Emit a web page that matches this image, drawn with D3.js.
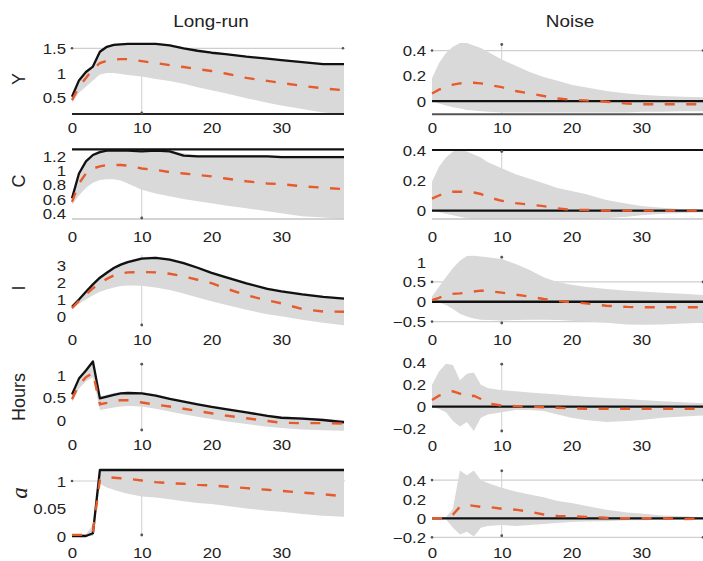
<!DOCTYPE html>
<html><head><meta charset="utf-8">
<script src="https://cdn.jsdelivr.net/npm/d3@7/dist/d3.min.js"></script>
<style>
html,body{margin:0;padding:0;background:#fff;}
svg{display:block;}
</style></head>
<body>
<svg id="chart" width="703" height="561"></svg>
<script>
// ---------------- DATA ----------------
const horizon = [0,1,2,3,4,5,6,7,8,10,12,14,16,18,20,22,25,28,30,33,36,39];
const colTitles = ["Long-run", "Noise"];
const rowLabels = ["Y", "C", "I", "Hours", "a"];
const xTicks = [0,10,20,30];

// Y
const yLrSolid = [0.52,0.85,1.02,1.13,1.43,1.53,1.57,1.58,1.59,1.59,1.59,1.56,1.50,1.45,1.41,1.38,1.33,1.29,1.26,1.22,1.18,1.18];
const yLrMean  = [0.45,0.72,0.90,1.08,1.20,1.25,1.27,1.28,1.28,1.24,1.20,1.16,1.12,1.08,1.04,0.99,0.90,0.84,0.80,0.74,0.69,0.65];
const yLrHi    = [0.53,0.87,1.04,1.15,1.45,1.55,1.59,1.60,1.60,1.60,1.60,1.58,1.52,1.47,1.43,1.40,1.35,1.31,1.28,1.24,1.20,1.20];
const yLrLo    = [0.40,0.60,0.72,0.85,0.97,1.00,1.00,0.98,0.96,0.93,0.88,0.84,0.78,0.71,0.65,0.59,0.49,0.40,0.34,0.27,0.20,0.17];
const yNzSolid = [0,0,0,0,0,0,0,0,0,0,0,0,0,0,0,0,0,0,0,0,0,0];
const yNzMean  = [0.06,0.09,0.11,0.13,0.14,0.145,0.145,0.14,0.13,0.11,0.08,0.06,0.04,0.02,0.01,0.005,-0.005,-0.02,-0.025,-0.025,-0.025,-0.025];
const yNzHi    = [0.18,0.30,0.38,0.43,0.46,0.46,0.44,0.42,0.39,0.33,0.28,0.23,0.19,0.16,0.13,0.11,0.08,0.06,0.05,0.04,0.035,0.03];
const yNzLo    = [0,-0.02,-0.035,-0.05,-0.06,-0.07,-0.075,-0.08,-0.085,-0.09,-0.09,-0.09,-0.09,-0.09,-0.09,-0.09,-0.09,-0.09,-0.085,-0.085,-0.08,-0.08];
// C
const cLrSolid = [0.61,0.96,1.13,1.22,1.26,1.28,1.28,1.28,1.28,1.27,1.28,1.27,1.21,1.20,1.20,1.20,1.20,1.20,1.19,1.19,1.19,1.19];
const cLrMean  = [0.56,0.82,0.96,1.03,1.06,1.08,1.08,1.08,1.07,1.03,1.01,0.98,0.96,0.94,0.92,0.89,0.85,0.82,0.81,0.78,0.76,0.74];
const cLrHi    = [0.63,0.98,1.15,1.24,1.28,1.29,1.29,1.29,1.29,1.29,1.29,1.29,1.24,1.22,1.22,1.22,1.22,1.22,1.21,1.21,1.21,1.21];
const cLrLo    = [0.52,0.65,0.76,0.83,0.87,0.88,0.88,0.86,0.82,0.73,0.68,0.64,0.60,0.57,0.54,0.51,0.47,0.43,0.40,0.36,0.34,0.32];
const cNzSolid = [0,0,0,0,0,0,0,0,0,0,0,0,0,0,0,0,0,0,0,0,0,0];
const cNzMean  = [0.08,0.10,0.12,0.125,0.125,0.125,0.12,0.11,0.09,0.065,0.05,0.04,0.03,0.015,0.005,0.005,0,0,0,0,0,0];
const cNzHi    = [0.19,0.29,0.35,0.39,0.40,0.39,0.37,0.35,0.32,0.28,0.24,0.21,0.18,0.15,0.13,0.11,0.07,0.045,0.03,0.02,0.01,0.005];
const cNzLo    = [0,-0.01,-0.02,-0.03,-0.04,-0.05,-0.055,-0.055,-0.055,-0.055,-0.055,-0.055,-0.055,-0.055,-0.055,-0.055,-0.05,-0.04,-0.03,-0.02,-0.015,-0.01];
// I
const iLrSolid = [0.58,1.00,1.45,1.88,2.27,2.56,2.83,3.03,3.18,3.38,3.42,3.32,3.12,2.85,2.55,2.30,1.94,1.62,1.48,1.30,1.15,1.05];
const iLrMean  = [0.50,0.92,1.30,1.65,1.95,2.20,2.40,2.52,2.58,2.60,2.58,2.50,2.35,2.15,1.95,1.65,1.25,0.95,0.78,0.45,0.30,0.29];
const iLrHi    = [0.62,1.06,1.52,1.95,2.35,2.65,2.92,3.12,3.27,3.47,3.50,3.40,3.20,2.93,2.63,2.38,2.02,1.70,1.56,1.38,1.22,1.12];
const iLrLo    = [0.45,0.75,1.00,1.25,1.45,1.58,1.70,1.78,1.82,1.80,1.70,1.55,1.35,1.12,0.90,0.70,0.40,0.15,0.02,-0.18,-0.35,-0.50];
const iNzSolid = [0,0,0,0,0,0,0,0,0,0,0,0,0,0,0,0,0,0,0,0,0,0];
const iNzMean  = [0.04,0.10,0.17,0.20,0.21,0.23,0.26,0.28,0.27,0.23,0.18,0.13,0.07,0.02,-0.01,-0.04,-0.10,-0.13,-0.14,-0.14,-0.14,-0.14];
const iNzHi    = [0.13,0.38,0.62,0.85,1.03,1.15,1.16,1.14,1.12,1.08,0.95,0.80,0.62,0.50,0.43,0.38,0.32,0.28,0.26,0.23,0.20,0.17];
const iNzLo    = [0,-0.02,-0.08,-0.18,-0.30,-0.37,-0.42,-0.45,-0.46,-0.47,-0.46,-0.45,-0.45,-0.46,-0.48,-0.50,-0.53,-0.57,-0.58,-0.57,-0.55,-0.53];
// Hours
const hLrSolid = [0.57,0.92,1.10,1.30,0.48,0.52,0.56,0.59,0.60,0.59,0.54,0.47,0.41,0.35,0.29,0.24,0.17,0.09,0.05,0.03,0.00,-0.05];
const hLrMean  = [0.46,0.78,0.95,1.05,0.35,0.38,0.42,0.44,0.44,0.39,0.34,0.30,0.25,0.20,0.15,0.10,0.04,-0.02,-0.06,-0.07,-0.07,-0.08];
const hLrHi    = [0.60,0.95,1.13,1.32,0.52,0.56,0.60,0.62,0.63,0.62,0.57,0.50,0.44,0.38,0.32,0.27,0.20,0.12,0.08,0.06,0.03,0.00];
const hLrLo    = [0.40,0.70,0.86,0.95,0.22,0.25,0.28,0.30,0.31,0.30,0.25,0.19,0.13,0.07,0.02,-0.03,-0.09,-0.15,-0.18,-0.21,-0.23,-0.24];
const hNzSolid = [0,0,0,0,0,0,0,0,0,0,0,0,0,0,0,0,0,0,0,0,0,0];
const hNzMean  = [0.06,0.10,0.12,0.14,0.12,0.09,0.10,0.07,0.03,0.01,0.005,0,-0.005,-0.01,-0.015,-0.02,-0.02,-0.02,-0.02,-0.02,-0.02,-0.02];
const hNzHi    = [0.20,0.32,0.39,0.38,0.24,0.30,0.31,0.20,0.17,0.15,0.14,0.13,0.12,0.11,0.10,0.09,0.08,0.07,0.06,0.05,0.04,0.03];
const hNzLo    = [0,-0.02,-0.05,-0.13,-0.18,-0.14,-0.22,-0.10,-0.07,-0.05,-0.03,-0.03,-0.04,-0.07,-0.10,-0.12,-0.14,-0.13,-0.12,-0.10,-0.09,-0.08];
// a
const aLrSolid = [0,0,0,0.05,1.2,1.2,1.2,1.2,1.2,1.2,1.2,1.2,1.2,1.2,1.2,1.2,1.2,1.2,1.2,1.2,1.2,1.2];
const aLrMean  = [0.02,0.02,0.02,0.08,1.02,1.07,1.06,1.05,1.04,1.01,0.98,0.96,0.95,0.93,0.92,0.90,0.87,0.84,0.82,0.79,0.76,0.72];
const aLrHi    = [0.03,0.03,0.03,0.20,1.2,1.2,1.2,1.2,1.2,1.2,1.2,1.2,1.2,1.2,1.2,1.2,1.2,1.2,1.2,1.2,1.2,1.2];
const aLrLo    = [0,0,0,0,0.95,0.88,0.84,0.80,0.77,0.72,0.70,0.67,0.63,0.60,0.58,0.55,0.50,0.46,0.44,0.40,0.37,0.35];
const aNzSolid = [0,0,0,0,0,0,0,0,0,0,0,0,0,0,0,0,0,0,0,0,0,0];
const aNzMean  = [0,0,0,0.04,0.12,0.14,0.13,0.12,0.12,0.10,0.09,0.07,0.04,0.025,0.02,0.015,0.005,0,0,0,-0.01,0];
const aNzHi    = [0.01,0.01,0.01,0.10,0.50,0.45,0.50,0.40,0.37,0.32,0.28,0.25,0.22,0.18,0.16,0.13,0.09,0.06,0.05,0.03,0.02,0.01];
const aNzLo    = [-0.01,-0.01,-0.01,-0.10,-0.17,-0.14,-0.19,-0.10,-0.08,-0.07,-0.08,-0.07,-0.06,-0.05,-0.04,-0.035,-0.03,-0.02,-0.02,-0.015,-0.01,-0.01];

// tick values and labels
const yTicksYL = [0.5,1,1.5],          yLabsYL = ["0.5","1","1.5"];
const yTicksYR = [0,0.2,0.4],          yLabsYR = ["0","0.2","0.4"];
const yTicksCL = [0.4,0.6,0.8,1,1.2],  yLabsCL = ["0.4","0.6","0.8","1","1.2"];
const yTicksCR = [0,0.2,0.4],          yLabsCR = ["0","0.2","0.4"];
const yTicksIL = [0,1,2,3],            yLabsIL = ["0","1","2","3"];
const yTicksIR = [-0.5,0,0.5,1],       yLabsIR = ["\u22120.5","0","0.5","1"];
const yTicksHL = [0,0.5,1],            yLabsHL = ["0","0.5","1"];
const yTicksHR = [-0.2,0,0.2,0.4],     yLabsHR = ["\u22120.2","0","0.2","0.4"];
const yTicksAL = [0,0.5,1],            yLabsAL = ["0","0.05","1"];
const yTicksAR = [-0.2,0,0.2,0.4],     yLabsAR = ["\u22120.2","0","0.2","0.4"];

// ---------------- LAYOUT ----------------
const xDomain = [0,39];
const colX = [[72,344],[432,704]];
const FONT = '"Liberation Sans", Arial, Helvetica, sans-serif';
const SX = 1.16; // horizontal stretch of the reference text
const BAND = "#d9d9d9", ORANGE = "#e65a2c", GRID = "#cfcfcf", DOT = "#555";

const panels = [
 {row:0,col:0,s:[yLrSolid,yLrMean,yLrHi,yLrLo],dom:[0.17,1.607],rng:[114,43],t:yTicksYL,l:yLabsYL,xLab:128,
  hgrid:[1.5],vdot:["bottom"],lines:[{v:"min",c:"#222",w:2}]},
 {row:0,col:1,s:[yNzSolid,yNzMean,yNzHi,yNzLo],dom:[-0.105,0.46],rng:[114.3,43],t:yTicksYR,l:yLabsYR,xLab:128,
  hgrid:[0.4],vdot:["top"],lines:[{v:"min",c:"#555",w:2}]},
 {row:1,col:0,s:[cLrSolid,cLrMean,cLrHi,cLrLo],dom:[0.32,1.30],rng:[219,149.3],t:yTicksCL,l:yLabsCL,xLab:237,
  hgrid:[],vdot:["bottom"],lines:[{v:"min",c:"#c4c4c4",w:1.5},{v:"max",c:"#111",w:2.2}]},
 {row:1,col:1,s:[cNzSolid,cNzMean,cNzHi,cNzLo],dom:[-0.055,0.4],rng:[219,150],t:yTicksCR,l:yLabsCR,xLab:237,
  hgrid:[],vdot:["top"],lines:[{v:"min",c:"#c4c4c4",w:1.5},{v:"max",c:"#111",w:2.2}]},
 {row:2,col:0,s:[iLrSolid,iLrMean,iLrHi,iLrLo],dom:[-0.54,3.59],rng:[326,255],t:yTicksIL,l:yLabsIL,xLab:340,
  hgrid:[],vdot:["bottom"],lines:[]},
 {row:2,col:1,s:[iNzSolid,iNzMean,iNzHi,iNzLo],dom:[-0.56,1.16],rng:[324,255.7],t:yTicksIR,l:yLabsIR,xLab:340,
  hgrid:[0.5,-0.5],vdot:["top","bottom"],lines:[]},
 {row:3,col:0,s:[hLrSolid,hLrMean,hLrHi,hLrLo],dom:[-0.244,1.273],rng:[431,362.7],t:yTicksHL,l:yLabsHL,xLab:445,
  hgrid:[],vdot:["top","bottom"],lines:[]},
 {row:3,col:1,s:[hNzSolid,hNzMean,hNzHi,hNzLo],dom:[-0.23,0.4],rng:[432,362.7],t:yTicksHR,l:yLabsHR,xLab:446,
  hgrid:[],vdot:["top","bottom"],lines:[]},
 {row:4,col:0,s:[aLrSolid,aLrMean,aLrHi,aLrLo],dom:[0,1.2],rng:[536,470],t:yTicksAL,l:yLabsAL,xLab:553,
  hgrid:[1],vdot:["bottom"],lines:[]},
 {row:4,col:1,s:[aNzSolid,aNzMean,aNzHi,aNzLo],dom:[-0.193,0.513],rng:[536.7,469.3],t:yTicksAR,l:yLabsAR,xLab:553,
  hgrid:[0.4,-0.2],vdot:["top","bottom"],lines:[]}
];
const rowLabelPos = [
  {y:79, x:25, italic:false},
  {y:181, x:25, italic:false},
  {y:288, x:25, italic:false},
  {y:397, x:25, italic:false},
  {y:493, x:27, italic:true}
];
const titlePos = [{x:211,y:21},{x:570,y:21}];

// ---------------- DRAW ----------------
const svg = d3.select("#chart");

titlePos.forEach((p,i)=>{
  svg.append("text")
    .attr("transform",`translate(${p.x},${p.y}) scale(${SX},1)`)
    .attr("text-anchor","middle").attr("dy","0.35em")
    .style("font-family",FONT).style("font-size","16.3px").style("fill","#222")
    .text(colTitles[i]);
});

rowLabelPos.forEach((p,i)=>{
  svg.append("text")
    .attr("transform",`translate(${p.x},${p.y}) rotate(-90)`)
    .attr("text-anchor","middle")
    .style("font-family", p.italic ? '"Liberation Serif","Times New Roman",serif' : FONT)
    .style("font-style", p.italic ? "italic" : "normal")
    .style("font-size", p.italic ? "23px" : "18px").style("fill","#222")
    .text(rowLabels[i]);
});

panels.forEach(p=>{
  const [solid, mean, hi, lo] = p.s;
  const x = d3.scaleLinear().domain(xDomain).range(colX[p.col]);
  const y = d3.scaleLinear().domain(p.dom).range(p.rng);
  const g = svg.append("g");
  const xl = colX[p.col][0], xr = colX[p.col][1];
  const yb = p.rng[0], yt = p.rng[1];

  g.append("line").attr("x1",x(10)).attr("x2",x(10)).attr("y1",yt).attr("y2",yb)
    .attr("stroke",GRID).attr("stroke-width",1);
  p.hgrid.forEach(v=>{
    g.append("line").attr("x1",xl).attr("x2",xr).attr("y1",y(v)).attr("y2",y(v))
      .attr("stroke",GRID).attr("stroke-width",1.2);
    g.append("circle").attr("cx",xl).attr("cy",y(v)).attr("r",1.3).attr("fill",DOT);
    g.append("circle").attr("cx",xr-1).attr("cy",y(v)).attr("r",1.3).attr("fill",DOT);
  });

  const area = d3.area().x((d,i)=>x(horizon[i])).y0((d,i)=>y(lo[i])).y1((d,i)=>y(hi[i]));
  g.append("path").datum(hi).attr("d",area).attr("fill",BAND).attr("stroke","none");

  p.lines.forEach(L=>{
    const v = L.v==="min" ? p.dom[0] : p.dom[1];
    g.append("line").attr("x1",xl).attr("x2",xr).attr("y1",y(v)).attr("y2",y(v))
      .attr("stroke",L.c).attr("stroke-width",L.w);
  });

  p.vdot.forEach(w=>{
    g.append("circle").attr("cx",x(10)).attr("cy",w==="top"?yt+1.5:yb-1).attr("r",1.4).attr("fill",DOT);
  });

  const line = d3.line().x((d,i)=>x(horizon[i])).y(d=>y(d));
  g.append("path").datum(solid).attr("d",line).attr("fill","none")
    .attr("stroke","#111").attr("stroke-width",2.3).attr("stroke-linejoin","round");
  g.append("path").datum(mean).attr("d",line).attr("fill","none")
    .attr("stroke",ORANGE).attr("stroke-width",2.4).attr("stroke-dasharray","10,11.5");

  const ya = g.append("g").attr("transform",`translate(${xl},0)`)
    .call(d3.axisLeft(y).tickValues(p.t).tickFormat((d,i)=>p.l[i]).tickSize(0).tickPadding(0));
  ya.select(".domain").remove();
  ya.selectAll("text").attr("x",-6/SX).attr("dy","0.35em")
    .attr("transform",`scale(${SX},1)`)
    .style("font-family",FONT).style("font-size","14.5px").style("fill","#222");

  const xa = g.append("g").attr("transform",`translate(0,${p.xLab})`)
    .call(d3.axisBottom(x).tickValues(xTicks).tickSize(0).tickPadding(0));
  xa.select(".domain").remove();
  xa.selectAll("text").attr("y",0).attr("dy","0.35em")
    .attr("transform",`scale(${SX},1)`)
    .style("font-family",FONT).style("font-size","14.5px").style("fill","#222");
});
</script>
</body></html>
